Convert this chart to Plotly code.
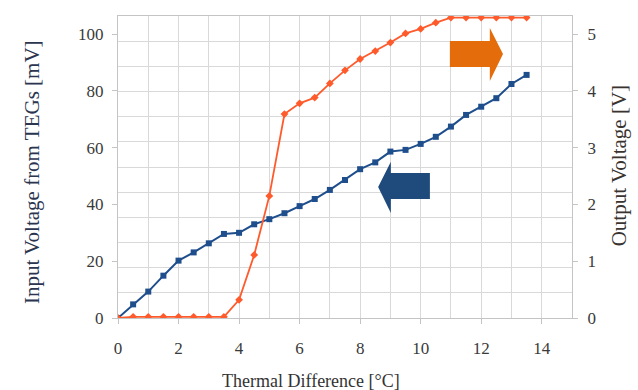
import plotly.graph_objects as go

# ---- data ----
thermal_diff = [0, 0.5, 1, 1.5, 2, 2.5, 3, 3.5, 4, 4.5, 5, 5.5, 6, 6.5,
                7, 7.5, 8, 8.5, 9, 9.5, 10, 10.5, 11, 11.5, 12, 12.5, 13, 13.5]
input_mv = [0, 4.8, 9.3, 14.9, 20.2, 23.1, 26.3, 29.6, 30.0, 33.0, 34.8, 36.9,
            39.4, 41.9, 45.1, 48.6, 52.4, 54.8, 58.6, 59.2, 61.3, 63.8, 67.4,
            71.5, 74.4, 77.4, 82.4, 85.6]
output_v = [0, 0.02, 0.02, 0.02, 0.02, 0.02, 0.02, 0.02, 0.32, 1.11, 2.15, 3.59,
            3.78, 3.88, 4.13, 4.36, 4.56, 4.70, 4.85, 5.01, 5.09, 5.20, 5.29,
            5.29, 5.29, 5.29, 5.29, 5.29]
x_ticks = [0, 2, 4, 6, 8, 10, 12, 14]
left_ticks = [0, 20, 40, 60, 80, 100]
right_ticks = [0, 1, 2, 3, 4, 5]

X_MAX = 15
YL_MAX = 106.34
YR_MAX = 5.317

BLUE = "#1F4E8C"
ORANGE = "#FF5A2B"
GRID = "#d9d9d9"
AXIS = "#c4c4c4"
FONT = "Liberation Serif"
TICKC = "#3a3a3a"

fig = go.Figure()
fig.add_trace(go.Scatter(
    x=thermal_diff, y=input_mv, mode="lines+markers", yaxis="y",
    line=dict(color=BLUE, width=2),
    marker=dict(symbol="square", size=6, color=BLUE),
    name="Input Voltage"))
fig.add_trace(go.Scatter(
    x=thermal_diff, y=output_v, mode="lines+markers", yaxis="y2",
    line=dict(color=ORANGE, width=1.8),
    marker=dict(symbol="diamond", size=6, color=ORANGE),
    name="Output Voltage"))

fig.update_layout(
    width=638, height=390,
    margin=dict(l=118, r=66, t=16, b=72),
    paper_bgcolor="white", plot_bgcolor="white",
    font=dict(family=FONT, size=17, color=TICKC),
    showlegend=False,
    xaxis=dict(
        range=[0, X_MAX], tickvals=x_ticks, ticks="outside", ticklen=5,
        tickcolor=AXIS, tickfont=dict(family=FONT, size=17, color=TICKC),
        ticklabelstandoff=9,
        showgrid=True, gridcolor=GRID, gridwidth=1.3,
        minor=dict(dtick=1, tick0=0, showgrid=True, gridcolor=GRID, gridwidth=1.3),
        showline=True, linecolor=AXIS, linewidth=1.3, mirror=True,
        zeroline=False),
    yaxis=dict(
        range=[0, YL_MAX], tickvals=left_ticks, ticks="outside", ticklen=5,
        tickcolor=AXIS, tickfont=dict(family=FONT, size=17, color=TICKC),
        ticklabelstandoff=5,
        showgrid=False,
        minor=dict(dtick=YL_MAX / 12, tick0=0, showgrid=True, gridcolor=GRID,
                   gridwidth=1.3),
        showline=True, linecolor=AXIS, linewidth=1.3,
        zeroline=False),
    yaxis2=dict(
        range=[0, YR_MAX], tickvals=right_ticks, ticks="outside", ticklen=5,
        tickcolor=AXIS, tickfont=dict(family=FONT, size=17, color=TICKC),
        ticklabelstandoff=6,
        overlaying="y", side="right", showgrid=False,
        showline=True, linecolor=AXIS, linewidth=1.3, zeroline=False),
)

# axis titles
fig.add_annotation(text="Thermal Difference [°C]", xref="paper", yref="paper",
                   x=0.426, y=-0.209, showarrow=False, xanchor="center",
                   yanchor="middle", font=dict(family=FONT, size=18, color="#333333"))
fig.add_annotation(text="Input Voltage from TEGs [mV]", xref="paper", yref="paper",
                   x=-0.188, y=0.482, showarrow=False, textangle=-90,
                   xanchor="center", yanchor="middle",
                   font=dict(family=FONT, size=21, color="#2b3550"))
fig.add_annotation(text="Output Voltage [V]", xref="paper", yref="paper",
                   x=1.104, y=0.503, showarrow=False, textangle=-90,
                   xanchor="center", yanchor="middle",
                   font=dict(family=FONT, size=21, color="#3a3430"))

# decorative arrows indicating which axis each series belongs to
fig.add_shape(type="path", xref="paper", yref="paper",
              path="M 0.731,0.831 L 0.819,0.831 L 0.819,0.785 L 0.848,0.874 "
                   "L 0.819,0.960 L 0.819,0.917 L 0.731,0.917 Z",
              fillcolor="#E46C0A", line=dict(width=0))
fig.add_shape(type="path", xref="paper", yref="paper",
              path="M 0.573,0.434 L 0.601,0.517 L 0.601,0.480 L 0.687,0.480 "
                   "L 0.687,0.394 L 0.601,0.394 L 0.601,0.348 Z",
              fillcolor="#1F4A7C", line=dict(width=0))

fig.write_html("out.html",
               config={"displayModeBar": False},
               post_script="document.body.style.margin='0px';"
                           "document.body.style.overflow='hidden';")
